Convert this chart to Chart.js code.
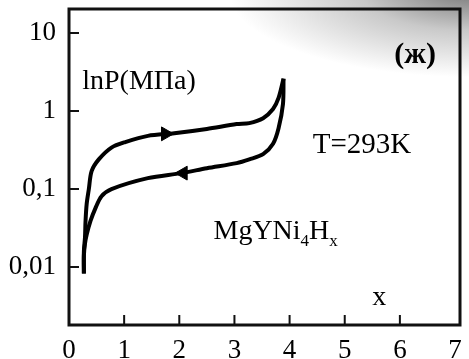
<!DOCTYPE html>
<html>
<head>
<meta charset="utf-8">
<script src="https://cdn.jsdelivr.net/npm/chart.js@4"></script>
<style>
  html, body { margin: 0; padding: 0; }
  body {
    width: 469px; height: 359px; overflow: hidden;
    background: #fff radial-gradient(ellipse 240px 85px at 469px -8px, rgba(115,115,115,0.95) 0%, rgba(165,165,165,0.6) 45%, rgba(255,255,255,0) 100%);
  }
  canvas { display: block; }
</style>
</head>
<body>
<canvas id="chart" width="469" height="359"></canvas>
<script>
// absorption branch (upper, arrow to the right)
const absX = [0.27, 0.27, 0.29, 0.30, 0.32, 0.36, 0.41, 0.54, 0.77, 1.02, 1.43, 1.91, 2.5, 3.04, 3.27, 3.52, 3.70, 3.80, 3.89];
const absP = [0.0083, 0.016, 0.024, 0.039, 0.064, 0.10, 0.17, 0.24, 0.34, 0.40, 0.48, 0.52, 0.59, 0.68, 0.70, 0.81, 1.06, 1.47, 2.6];
// desorption branch (lower, arrow to the left)
const desX = [3.89, 3.88, 3.80, 3.70, 3.52, 3.27, 3.04, 2.5, 2.04, 1.43, 0.77, 0.59, 0.48, 0.39, 0.32, 0.29, 0.27, 0.27];
const desP = [2.6, 1.23, 0.60, 0.38, 0.28, 0.24, 0.215, 0.185, 0.16, 0.138, 0.10, 0.081, 0.057, 0.039, 0.026, 0.020, 0.014, 0.0083];
// arrow heads: position and direction (degrees)
const arrowX = [1.75, 2.07];
const arrowP = [0.51, 0.16];
const arrowRot = [90, -90];

const xTicks = [0, 1, 2, 3, 4, 5, 6, 7];
const xTickLabels = ["0", "1", "2", "3", "4", "5", "6", "7"];
const yTicks = [0.01, 0.1, 1, 10];
const yTickLabels = ["0,01", "0,1", "1", "10"];

const serif = "'Liberation Serif', 'DejaVu Serif', serif";

const toPts = (xs, ys) => xs.map((x, i) => ({ x: x, y: ys[i] }));

// frame, inward ticks and labels inside the plot
const extras = {
  id: "extras",
  afterDraw(chart) {
    const ctx = chart.ctx;
    const a = chart.chartArea;
    const xs = chart.scales.x;
    const ys = chart.scales.y;
    ctx.save();
    ctx.strokeStyle = "#111";
    ctx.lineWidth = 2;
    ctx.beginPath();
    xTicks.slice(1, 7).forEach(v => {
      const px = xs.getPixelForValue(v);
      ctx.moveTo(px, a.bottom);
      ctx.lineTo(px, a.bottom - 10);
    });
    yTicks.forEach(v => {
      const py = ys.getPixelForValue(v);
      ctx.moveTo(a.left, py);
      ctx.lineTo(a.left + 10, py);
    });
    ctx.stroke();
    ctx.lineWidth = 3;
    ctx.strokeRect(a.left, a.top, a.right - a.left, a.bottom - a.top);

    ctx.fillStyle = "#000";
    ctx.textBaseline = "alphabetic";
    ctx.textAlign = "left";
    const at = (x, y) => [xs.getPixelForValue(x), ys.getPixelForValue(y)];
    let p;
    ctx.font = "28px " + serif;
    p = at(0.24, 1.93);
    ctx.fillText("lnP(МПа)", p[0], p[1]);
    ctx.font = "29px " + serif;
    p = at(4.42, 0.29);
    ctx.fillText("T=293K", p[0], p[1]);
    ctx.font = "28px " + serif;
    p = at(5.5, 0.0033);
    ctx.fillText("x", p[0], p[1]);
    ctx.font = "bold 30px " + serif;
    p = at(5.9, 4.07);
    ctx.fillText("(ж)", p[0], p[1]);
    // MgYNi4Hx with subscripts
    p = at(2.62, 0.023);
    let cx = p[0];
    const parts = [["MgYNi", 0, 28], ["4", 7, 17], ["H", 0, 28], ["x", 7, 17]];
    parts.forEach(([t, dy, size]) => {
      ctx.font = size + "px " + serif;
      ctx.fillText(t, cx, p[1] + dy);
      cx += ctx.measureText(t).width;
    });
    ctx.restore();
  }
};

const ctx = document.getElementById("chart").getContext("2d");
new Chart(ctx, {
  type: "scatter",
  data: {
    datasets: [
      {
        data: toPts(arrowX, arrowP),
        pointStyle: "triangle",
        rotation: arrowRot,
        pointRadius: 8,
        backgroundColor: "#000",
        borderColor: "#000",
        borderWidth: 1,
        showLine: false,
      },
      {
        data: toPts(absX, absP),
        showLine: true,
        borderColor: "#000",
        borderWidth: 4,
        pointRadius: 0,
        tension: 0.3,
      },
      {
        data: toPts(desX, desP),
        showLine: true,
        borderColor: "#000",
        borderWidth: 4,
        pointRadius: 0,
        tension: 0.3,
      },
    ]
  },
  options: {
    responsive: false,
    animation: false,
    layout: { padding: { top: 9, right: 2, left: 0, bottom: 0 } },
    plugins: { legend: { display: false }, tooltip: { enabled: false } },
    scales: {
      x: {
        type: "linear",
        min: 0,
        max: 7.09,
        grid: { display: false, drawTicks: false },
        border: { display: false },
        afterBuildTicks: s => { s.ticks = xTicks.map(v => ({ value: v })); },
        afterFit: s => { s.height = 34; s.paddingLeft = 0; s.paddingRight = 0; },
        ticks: {
          padding: 10,
          maxRotation: 0,
          color: "#000",
          font: { family: serif, size: 27 },
          callback: (v) => xTickLabels[xTicks.indexOf(v)],
        },
      },
      y: {
        type: "logarithmic",
        min: 0.00181,
        max: 20.3,
        grid: { display: false, drawTicks: false },
        border: { display: false },
        afterBuildTicks: s => { s.ticks = yTicks.map(v => ({ value: v })); },
        afterFit: s => { s.width = 69; s.paddingTop = 0; s.paddingBottom = 0; },
        ticks: {
          padding: 13,
          color: "#000",
          font: { family: serif, size: 27 },
          callback: (v) => yTickLabels[yTicks.indexOf(v)],
        },
      },
    }
  },
  plugins: [extras]
});
</script>
</body>
</html>
